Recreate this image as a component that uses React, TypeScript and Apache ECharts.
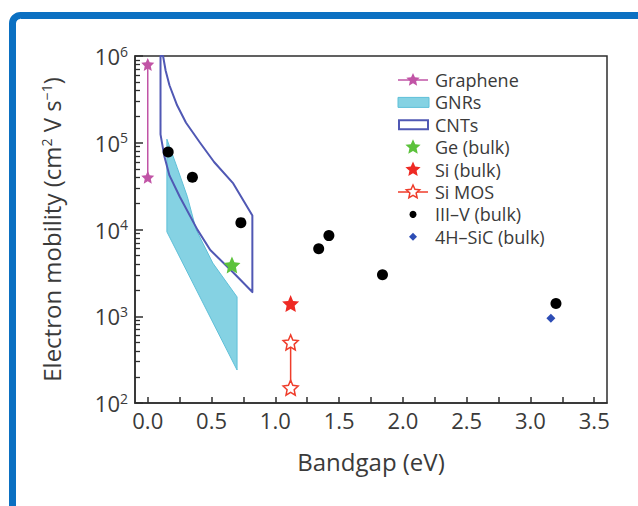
import React, { useEffect, useRef } from 'react';
import * as echarts from 'echarts';

const FONT = '"Open Sans", "Noto Sans", sans-serif';
const TEXT = '#3a3a3a';
const AXIS = '#2e2e2e';

// Axis extents
const X_MIN = -0.1;
const X_MAX = 3.6;
const Y_MIN = 1e2;
const Y_MAX = 1e6;
const X_TICKS = [0, 0.25, 0.5, 0.75, 1, 1.25, 1.5, 1.75, 2, 2.25, 2.5, 2.75, 3, 3.25, 3.5];
const X_LABELS = [0, 0.5, 1, 1.5, 2, 2.5, 3, 3.5];
const Y_DECADES = [1e2, 1e3, 1e4, 1e5];
const Y_MINOR_MULTIPLES = [2, 3, 4, 5, 6, 7, 8, 9];

// Materials: [bandgap (eV), electron mobility (cm2 V-1 s-1)]
const graphene = [[0, 8e5], [0, 4e4]];
const gnrRegion = [
  [0.15, 1.1e5], [0.23, 5.2e4], [0.31, 2.4e4], [0.38, 9.9e3], [0.51, 4.1e3],
  [0.70, 1.67e3], [0.70, 2.4e2], [0.15, 9.4e3],
];
const cntRegion = [
  [0.10, 1.0e6], [0.10, 1.25e5], [0.13, 7.0e4], [0.17, 4.2e4], [0.25, 2.4e4],
  [0.39, 9.9e3], [0.49, 5.8e3], [0.67, 3.2e3], [0.82, 1.9e3], [0.82, 1.45e4],
  [0.67, 3.4e4], [0.52, 6.0e4], [0.41, 1.0e5], [0.30, 1.7e5], [0.23, 2.7e5],
  [0.17, 4.6e5], [0.14, 6.8e5], [0.12, 1.0e6],
];
const geBulk = [[0.66, 3.9e3]];
const siBulk = [[1.12, 1.4e3]];
const siMos = [[1.12, 500], [1.12, 150]];
const iiiVBulk = [
  [0.16, 7.8e4], [0.35, 4.0e4], [0.73, 1.2e4], [1.34, 6.0e3],
  [1.42, 8.5e3], [1.84, 3.0e3], [3.2, 1.4e3],
];
const sic4hBulk = [[3.16, 950]];

// Minor log ticks (2..9 per decade) as exponents for the linear helper axis
const Y_MINOR_EXPONENTS: number[] = [];
Y_DECADES.forEach((d) => Y_MINOR_MULTIPLES.forEach((m) => Y_MINOR_EXPONENTS.push(Math.log10(d * m))));

const COLORS = {
  graphene: '#c154a6',
  gnrFill: 'rgba(112,202,222,0.85)',
  gnrEdge: '#5fc0d8',
  cnt: '#5058b4',
  ge: '#5cc23c',
  si: '#ee2a24',
  siMos: '#ef3d2b',
  iiiV: '#000000',
  sic: '#2d4db5',
};

const LEGEND = [
  { name: 'Graphene', kind: 'lineStar', color: COLORS.graphene },
  { name: 'GNRs', kind: 'fillRect', color: COLORS.gnrFill },
  { name: 'CNTs', kind: 'outlineRect', color: COLORS.cnt },
  { name: 'Ge (bulk)', kind: 'star', color: COLORS.ge },
  { name: 'Si (bulk)', kind: 'star', color: COLORS.si },
  { name: 'Si MOS', kind: 'lineHollowStar', color: COLORS.siMos },
  { name: 'III\u2013V (bulk)', kind: 'dot', color: COLORS.iiiV },
  { name: '4H\u2013SiC (bulk)', kind: 'diamond', color: COLORS.sic },
];

function starPoints(cx: number, cy: number, R: number, inner = 0.47): number[][] {
  const pts: number[][] = [];
  for (let i = 0; i < 10; i++) {
    const r = i % 2 ? R * inner : R;
    const a = -Math.PI / 2 + (i * Math.PI) / 5;
    pts.push([cx + r * Math.cos(a), cy + r * Math.sin(a)]);
  }
  return pts;
}

const STAR = 'path://M' + starPoints(0, 0, 10).map((p) => p[0].toFixed(3) + ' ' + p[1].toFixed(3)).join(' L') + ' Z';

function legendGraphics() {
  const sx = 413;
  const top = 80;
  const step = 22.4;
  const els: any[] = [];
  LEGEND.forEach((item, i) => {
    const y = top + i * step;
    if (item.kind === 'lineStar' || item.kind === 'lineHollowStar') {
      els.push({ type: 'line', shape: { x1: 398, y1: y, x2: 428, y2: y }, style: { stroke: item.color, lineWidth: 1.5 } });
      els.push({
        type: 'polygon',
        shape: { points: starPoints(sx, y, 7) },
        style: item.kind === 'lineStar'
          ? { fill: item.color }
          : { fill: '#ffffff', stroke: item.color, lineWidth: 1.5 },
      });
    } else if (item.kind === 'fillRect') {
      els.push({ type: 'rect', shape: { x: 398, y: y - 5, width: 31, height: 10 }, style: { fill: item.color, stroke: COLORS.gnrEdge, lineWidth: 1 } });
    } else if (item.kind === 'outlineRect') {
      els.push({ type: 'rect', shape: { x: 399, y: y - 4.5, width: 29, height: 9 }, style: { fill: 'none', stroke: item.color, lineWidth: 2 } });
    } else if (item.kind === 'star') {
      els.push({ type: 'polygon', shape: { points: starPoints(sx, y, 8) }, style: { fill: item.color } });
    } else if (item.kind === 'dot') {
      els.push({ type: 'circle', shape: { cx: sx, cy: y, r: 3.5 }, style: { fill: item.color } });
    } else if (item.kind === 'diamond') {
      els.push({ type: 'polygon', shape: { points: [[sx, y - 4], [sx + 4, y], [sx, y + 4], [sx - 4, y]] }, style: { fill: item.color } });
    }
    els.push({
      type: 'text',
      x: 435,
      y,
      style: {
        text: item.name,
        fill: TEXT,
        fontFamily: FONT,
        fontSize: 18,
        lineHeight: 20,
        verticalAlign: 'middle',
        align: 'left',
      },
    });
  });
  return els;
}

function polygonSeries(name: string, points: number[][], style: any, z: number) {
  return {
    name,
    type: 'custom',
    coordinateSystem: 'cartesian2d',
    silent: true,
    z,
    data: points,
    renderItem: (params: any, api: any) => {
      if (params.dataIndex !== 0) return null;
      return {
        type: 'polygon',
        shape: { points: points.map((p) => api.coord(p)) },
        style,
      };
    },
  };
}

export default function App() {
  const ref = useRef<HTMLDivElement>(null);

  useEffect(() => {
    if (!ref.current) return;
    const chart = echarts.init(ref.current, null, { renderer: 'svg' });

    chart.setOption({
      animation: false,
      backgroundColor: '#ffffff',
      textStyle: { fontFamily: FONT, color: TEXT },
      grid: {
        left: 135,
        top: 56,
        width: 472,
        height: 347,
        show: true,
        borderColor: AXIS,
        borderWidth: 1.5,
        backgroundColor: 'transparent',
      },
      xAxis: {
        type: 'value',
        min: X_MIN,
        max: X_MAX,
        name: 'Bandgap (eV)',
        nameLocation: 'middle',
        nameGap: 46,
        nameTextStyle: { fontSize: 24, color: TEXT, fontFamily: FONT },
        axisLine: { show: true, onZero: false, lineStyle: { color: AXIS, width: 1.5 } },
        axisTick: { show: true, inside: true, length: 6, customValues: X_TICKS, lineStyle: { color: AXIS, width: 1.5 } },
        axisLabel: {
          customValues: X_LABELS,
          fontSize: 22,
          color: TEXT,
          margin: 6,
          formatter: (v: number) => v.toFixed(1),
        },
        splitLine: { show: false },
      },
      yAxis: [
        {
          type: 'log',
          logBase: 10,
          min: Y_MIN,
          max: Y_MAX,
          position: 'left',
          name: 'Electron mobility (cm{s|2} V s{s|\u22121})',
          nameLocation: 'middle',
          nameGap: 72,
          nameTextStyle: {
            fontSize: 24,
            color: TEXT,
            fontFamily: FONT,
            rich: { s: { fontSize: 14, color: TEXT, fontFamily: FONT, padding: [0, 0, 10, 0] } },
          },
          axisLine: { show: true, onZero: false, lineStyle: { color: AXIS, width: 1.5 } },
          axisTick: { show: true, inside: true, length: 8, lineStyle: { color: AXIS, width: 1.5 } },
          axisLabel: {
            margin: 7,
            formatter: (v: number) => `{b|10}{s|${Math.round(Math.log10(v))}}`,
            rich: {
              b: { fontSize: 22, color: TEXT, fontFamily: FONT },
              s: { fontSize: 14, color: TEXT, fontFamily: FONT, padding: [0, 0, 10, 0] },
            },
          },
          splitLine: { show: false },
        },
        {
          // helper axis carrying the logarithmic minor ticks
          type: 'value',
          min: 2,
          max: 6,
          position: 'left',
          offset: 0,
          axisLine: { show: false, onZero: false },
          axisTick: { show: true, inside: true, length: 5, customValues: Y_MINOR_EXPONENTS, lineStyle: { color: AXIS, width: 1.3 } },
          axisLabel: { show: false },
          splitLine: { show: false },
        },
      ],
      graphic: [
        {
          type: 'rect',
          z: -10,
          silent: true,
          shape: { x: 12.5, y: 15.5, width: 700, height: 620, r: 8 },
          style: { fill: 'none', stroke: '#0b70c2', lineWidth: 7 },
        },
        ...legendGraphics(),
      ],
      series: [
        polygonSeries('GNRs', gnrRegion, { fill: COLORS.gnrFill, stroke: COLORS.gnrEdge, lineWidth: 1 }, 2),
        polygonSeries('CNTs', cntRegion, { fill: 'none', stroke: COLORS.cnt, lineWidth: 2, lineJoin: 'round' }, 3),
        {
          name: 'Graphene',
          type: 'line',
          z: 4,
          data: graphene,
          symbol: STAR,
          symbolSize: 13,
          lineStyle: { color: COLORS.graphene, width: 1.5 },
          itemStyle: { color: COLORS.graphene },
        },
        {
          name: 'Ge (bulk)',
          type: 'scatter',
          z: 5,
          data: geBulk,
          symbol: STAR,
          symbolSize: 17,
          itemStyle: { color: COLORS.ge, opacity: 1 },
        },
        {
          name: 'Si (bulk)',
          type: 'scatter',
          z: 5,
          data: siBulk,
          symbol: STAR,
          symbolSize: 17,
          itemStyle: { color: COLORS.si, opacity: 1 },
        },
        {
          name: 'Si MOS',
          type: 'line',
          z: 5,
          data: siMos,
          symbol: STAR,
          symbolSize: 15,
          showAllSymbol: true,
          lineStyle: { color: COLORS.siMos, width: 1.5 },
          itemStyle: { color: '#ffffff', borderColor: COLORS.siMos, borderWidth: 1.5 },
        },
        {
          name: 'III\u2013V (bulk)',
          type: 'scatter',
          z: 5,
          data: iiiVBulk,
          symbol: 'circle',
          symbolSize: 11,
          itemStyle: { color: COLORS.iiiV, opacity: 1 },
        },
        {
          name: '4H\u2013SiC (bulk)',
          type: 'scatter',
          z: 5,
          data: sic4hBulk,
          symbol: 'diamond',
          symbolSize: 9,
          itemStyle: { color: COLORS.sic, opacity: 1 },
        },
      ],
    });

    return () => chart.dispose();
  }, []);

  return (
    <div
      ref={ref}
      style={{ position: 'absolute', left: 0, top: 0, width: 638, height: 506, background: '#fff' }}
    />
  );
}
